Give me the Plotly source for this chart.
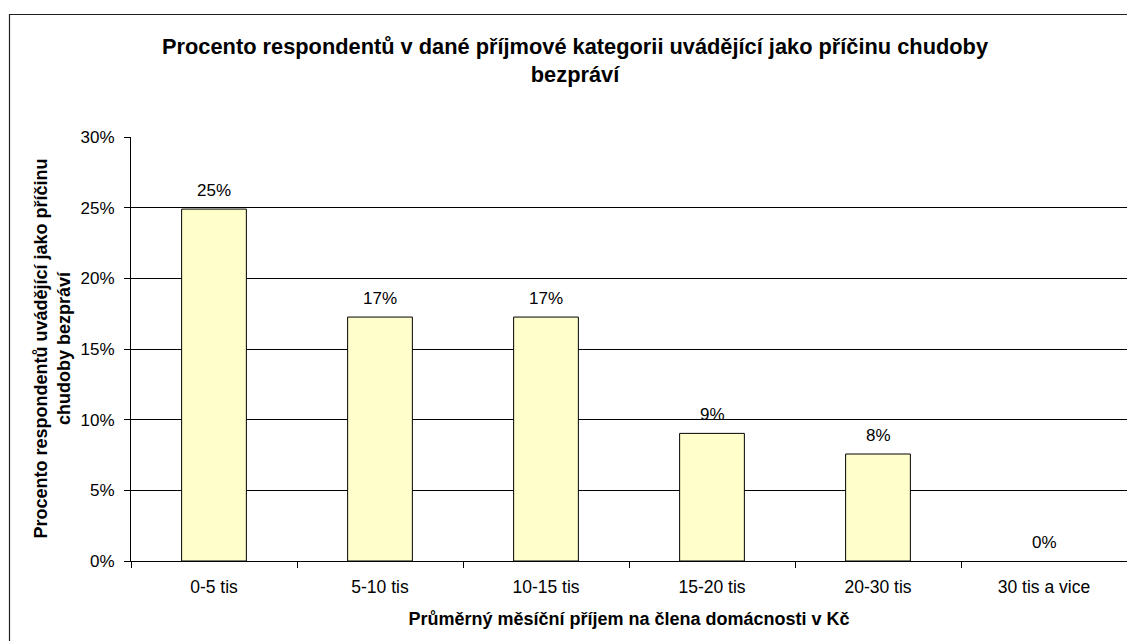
import plotly.graph_objects as go

categories = ["0-5 tis", "5-10 tis", "10-15 tis", "15-20 tis", "20-30 tis", "30 tis a vice"]
values = [0.249, 0.1726, 0.1726, 0.0903, 0.0757, 0.0]
y_ticks = [0, 0.05, 0.10, 0.15, 0.20, 0.25, 0.30]
y_tick_labels = ["0%", "5%", "10%", "15%", "20%", "25%", "30%"]

title_text = "Procento respondentů v dané příjmové kategorii uvádějící jako příčinu chudoby<br>bezpráví"
x_title = "Průměrný měsíční příjem na člena domácnosti v Kč"
y_title = "Procento respondentů uvádějící jako příčinu<br>chudoby bezpráví"

W, H = 1127, 641
L, R, T, B = 131, 0, 137, 80
pw = W - L - R
ph = H - T - B

FONT = "Liberation Sans, Arial, sans-serif"

def px_x(px):
    return (px - L) / pw

def px_y(py):
    return (H - B - py) / ph

fig = go.Figure()
fig.add_trace(go.Bar(
    x=categories,
    y=values,
    width=0.39,
    marker=dict(color="#FFFFCC",
                line=dict(color="#000000", width=[1 if v > 0 else 0 for v in values])),
    cliponaxis=False,
    showlegend=False,
    hovertemplate="%{x}: %{y:.0%}<extra></extra>",
))

for c, v in zip(categories, values):
    fig.add_annotation(
        x=c, y=v, xref="x", yref="y",
        text=f"{v:.0%}",
        showarrow=False,
        yanchor="middle", yshift=18.5,
        font=dict(family=FONT, size=17, color="#000000"),
    )

fig.update_layout(
    width=W, height=H,
    margin=dict(l=L, r=R, t=T, b=B, autoexpand=False),
    paper_bgcolor="white",
    plot_bgcolor="white",
    font=dict(family=FONT, size=17, color="#000000"),
    xaxis=dict(
        type="category",
        range=[-0.5, 5.5],
        showline=True, linecolor="#000000", linewidth=1,
        ticks="outside", tickson="boundaries", ticklen=6, tickcolor="#000000",
        showgrid=False,
        tickfont=dict(family=FONT, size=17.5, color="#000000"),
        ticklabelstandoff=10,
        title=dict(text="<b>" + x_title + "</b>", font=dict(family=FONT, size=18, color="#000000"), standoff=16),
        automargin=False,
    ),
    yaxis=dict(
        range=[0, 0.30],
        tickvals=y_ticks, ticktext=y_tick_labels,
        showline=True, linecolor="#000000", linewidth=1,
        ticks="outside", ticklen=6, tickcolor="#000000",
        showgrid=True, gridcolor="#000000", gridwidth=1,
        zeroline=False,
        tickfont=dict(family=FONT, size=17, color="#000000"),
        ticklabelstandoff=6,
        automargin=False,
    ),
)

# chart title
fig.add_annotation(
    text="<b>" + title_text + "</b>",
    xref="paper", yref="paper",
    x=px_x(575), y=px_y(32),
    xanchor="center", yanchor="top",
    showarrow=False,
    font=dict(family=FONT, size=21.8, color="#000000"),
)

# y-axis title
fig.add_annotation(
    text="<b>" + y_title + "</b>",
    textangle=-90,
    xref="paper", yref="paper",
    x=px_x(51.5), y=0.5,
    xanchor="center", yanchor="middle",
    showarrow=False,
    font=dict(family=FONT, size=18, color="#000000"),
)

# outer chart-area border (extends beyond the visible canvas on the right and bottom)
fig.add_shape(
    type="rect", xref="paper", yref="paper",
    x0=px_x(9.5), y0=px_y(700),
    x1=px_x(1160), y1=px_y(14.5),
    line=dict(color="#222222", width=1.2),
    fillcolor="rgba(0,0,0,0)",
    layer="below",
)

fig.write_html(
    "out.html",
    config={"displayModeBar": False},
    post_script="document.body.style.margin='0';document.body.style.overflow='hidden';",
)
